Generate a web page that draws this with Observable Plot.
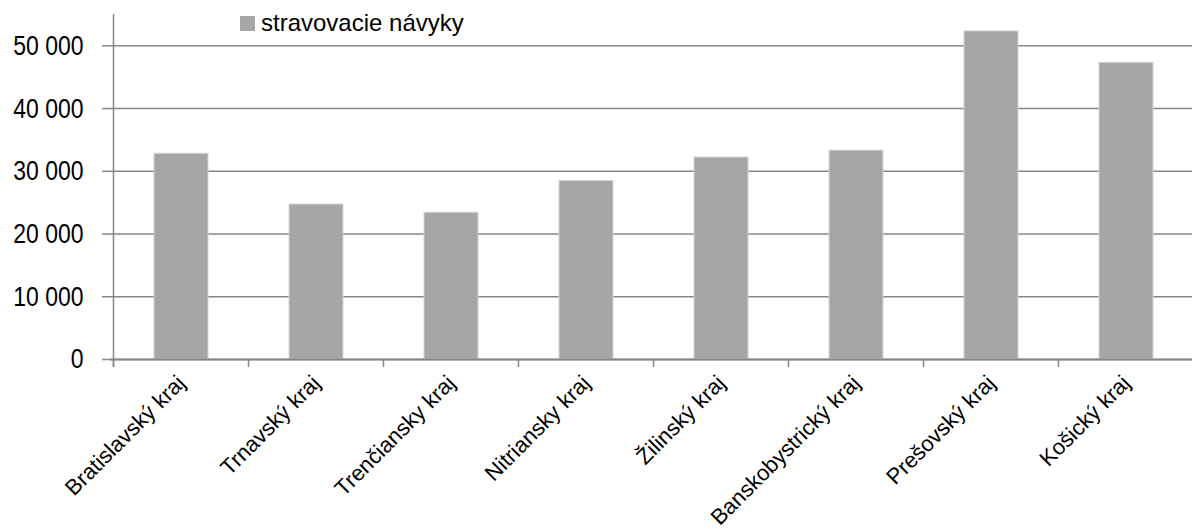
<!DOCTYPE html>
<html><head><meta charset="utf-8">
<script src="https://cdn.jsdelivr.net/npm/d3@7"></script>
<script src="https://cdn.jsdelivr.net/npm/@observablehq/plot@0.6"></script>
<style>
body{margin:0;background:#fff;font-family:"Liberation Sans",Arial,sans-serif;}
#wrap{position:relative;width:1192px;height:532px;overflow:hidden;}
#legend{position:absolute;left:240px;top:9px;font-size:24px;line-height:28px;display:flex;align-items:center;color:#000;z-index:2;}
#legend .sw{display:inline-block;width:15px;height:15px;background:#a6a6a6;margin-right:6px;}
</style></head><body>
<div id="wrap"></div>
<script>
const categories = ["Bratislavský kraj","Trnavský kraj","Trenčiansky kraj","Nitriansky kraj","Žilinský kraj","Banskobystrický kraj","Prešovský kraj","Košický kraj"];
const values = [32800, 24700, 23400, 28450, 32200, 33300, 52300, 47300];
const seriesName = "stravovacie návyky";
const yTicks = [0, 10000, 20000, 30000, 40000, 50000];
const yMax = 55000;

const data = categories.map((c, i) => ({region: c, value: values[i]}));
const fmt = d => d3.format(",")(d).replace(/,/g, " ");
const gridColor = "#868686";

const plot = Plot.plot({
  width: 1192, height: 532,
  marginLeft: 110, marginRight: -4, marginTop: 14, marginBottom: 173,
  x: {domain: categories, paddingInner: 0.6, paddingOuter: 0.3, label: null},
  y: {domain: [0, yMax], label: null},
  style: {fontFamily: "'Liberation Sans', Arial, sans-serif", color: "#000", background: "#fff", overflow: "visible"},
  marks: [
    Plot.gridY(yTicks, {stroke: gridColor, strokeOpacity: 1, strokeWidth: 1.5}),
    Plot.barY(data, {x: "region", y: "value", fill: "#a6a6a6", stroke: "#d4d4d4", strokeWidth: 1}),
    Plot.ruleY([0], {stroke: gridColor, strokeWidth: 2}),
    Plot.axisY(yTicks, {tickSize: 8, tickPadding: 19, tickFormat: fmt, stroke: gridColor, strokeWidth: 1.5, fontSize: 28, fill: "#000"}),
    Plot.axisX({tickSize: 0, tickRotate: -45, fontSize: 22, tickPadding: 20, fill: "#000"})
  ]
});

const wrap = document.getElementById("wrap");
wrap.appendChild(plot);

const sx = plot.scale("x"), sy = plot.scale("y");
const svg = d3.select(plot);

// narrow, tall tick label glyphs as in the reference
svg.selectAll('g[aria-label="y-axis tick label"] text').each(function () {
  const t = this.getAttribute("transform") || "";
  this.setAttribute("transform", t + " scale(0.82,1)");
});

// band-boundary ticks and the vertical y axis line, placed with the plot's own scales
const y0 = sy.apply(0), yTop = sy.apply(yMax);
const bounds = categories.map(c => sx.apply(c) + sx.bandwidth / 2 - sx.step / 2);
bounds.push(bounds[bounds.length - 1] + sx.step);
const g = svg.append("g").attr("stroke", gridColor).attr("stroke-width", 1.5);
g.selectAll("line.b").data(bounds).join("line")
  .attr("x1", d => d).attr("x2", d => d).attr("y1", y0).attr("y2", y0 + 8);
g.append("line").attr("x1", bounds[0]).attr("x2", bounds[0]).attr("y1", yTop).attr("y2", y0 + 8);

const legend = document.createElement("div");
legend.id = "legend";
legend.innerHTML = '<span class="sw"></span><span></span>';
legend.lastChild.textContent = seriesName;
wrap.appendChild(legend);
</script>
</body></html>
